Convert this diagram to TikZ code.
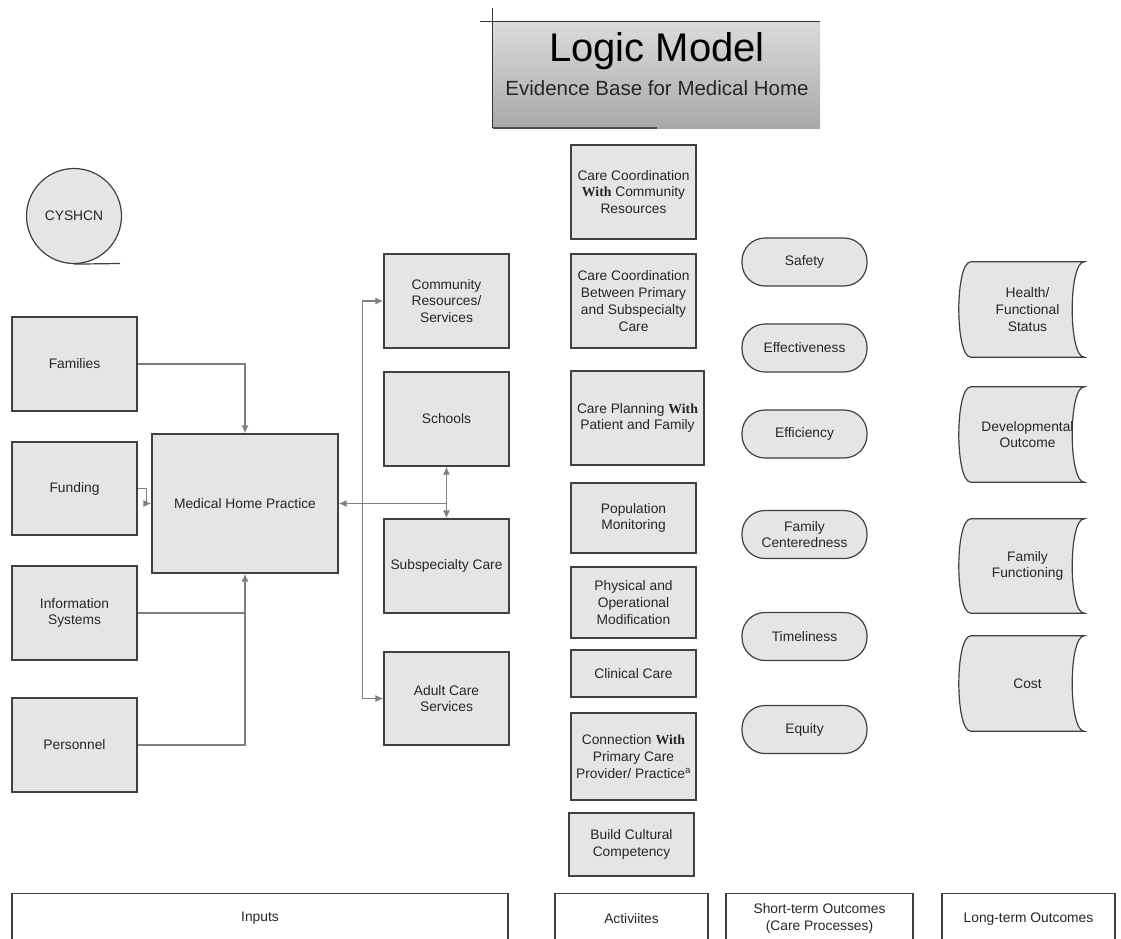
\documentclass[tikz,border=0pt]{standalone}
\usepackage{fontspec}
\setmainfont{Liberation Sans}
\newfontfamily\withfont{Liberation Serif}
\usetikzlibrary{arrows.meta,backgrounds}
\newcommand{\boxfont}{\fontsize{13.8}{16.8}\selectfont}
\newcommand{\bWith}{{\withfont\bfseries With}}
\begin{document}
\begin{tikzpicture}[x=1pt,y=-1pt]
    \tikzset{box/.style = {shape=rectangle,draw=black!75,line width=1.2pt,fill=black!10,text=black!85,font=\boxfont,align=center,minimum width=125pt,inner sep=1pt}}
    \tikzset{oval/.style = {box,rounded corners=23pt,minimum height=48pt}}
    \tikzset{lterm/.style = {font=\boxfont,text=black!85,align=center,minimum width=113pt,inner sep=0pt}}
    \tikzset{ltshape/.style = {draw=black!75,line width=1.2pt,fill=black!10}}
    \tikzset{column/.style = {draw=black!75,line width=1.2pt,fill=white,text=black!85,font=\boxfont,align=center,minimum height=50pt,anchor=north}}
    \tikzset{edge/.style = {->,> = {Latex[length=8pt,width=7pt]},draw=black!50,line width=1.3pt}}
    \useasboundingbox (0,0) rectangle (1121,938);
    \node[shape=rectangle,minimum width=327pt,minimum height=106pt,top color=black!14,bottom color=black!34] (title) at (656.5,75) {};
    \draw[black!80,line width=1pt] ([yshift=14pt]title.north west) -- (title.south west);
    \draw[black!80,line width=1pt] ([xshift=-13pt]title.north west) -- (title.north east);
    \draw[black!70,line width=2pt] (title.south west) -- (title.south);
    \node[anchor=base,font=\fontsize{40}{44}\selectfont] (logic) at (657,61) {Logic Model};
    \node[anchor=base,font=\fontsize{20.5}{24}\selectfont,text=black!85] (evidence) at (657,95) {Evidence Base for Medical Home};
    \node[circle,draw=black!75,line width=1.2pt,fill=black!10,text=black!85,font=\boxfont,minimum size=95pt] (cyshcn) at (74,216) {CYSHCN};
    \coordinate (tapeend) at (120,263.5);
    \draw[black!75,line width=1.2pt] (cyshcn.south) -- (tapeend);
    \node[box,minimum height=94pt] (families) at (74.5,364) {Families};
    \node[box,minimum height=93pt] (funding) at (74.5,488.5) {Funding};
    \node[box,minimum height=94pt] (infosys) at (74.5,613) {Information\\Systems};
    \node[box,minimum height=94pt] (personnel) at (74.5,745) {Personnel};
    \node[box,minimum width=186pt,minimum height=139pt] (mhp) at (245,503.5) {Medical Home Practice};
    \node[box,minimum height=94pt] (community) at (446.5,301) {Community\\Resources/\\Services};
    \node[box,minimum height=94pt] (schools) at (446.5,419) {Schools};
    \node[box,minimum height=94pt] (subspecialty) at (446.5,566) {Subspecialty Care};
    \node[box,minimum height=93pt] (adult) at (446.5,698.5) {Adult Care\\Services};
    \node[box,minimum height=94pt] (act1) at (633.5,192) {Care Coordination\\\bWith{} Community\\Resources};
    \node[box,minimum height=94pt] (act2) at (633.5,301) {Care Coordination\\Between Primary\\and Subspecialty\\Care};
    \node[box,minimum width=133pt,minimum height=94pt] (act3) at (637.5,418) {Care Planning \bWith\\Patient and Family};
    \node[box,minimum height=70pt] (act4) at (633.5,518) {Population\\Monitoring};
    \node[box,minimum height=71pt] (act5) at (633.5,602.5) {Physical and\\Operational\\Modification};
    \node[box,minimum height=47pt] (act6) at (633.5,673.5) {Clinical Care};
    \node[box,minimum height=87pt] (act7) at (633.5,756.5) {Connection \bWith\\Primary Care\\Provider/ Practice\textsuperscript{a}};
    \node[box,minimum height=63pt] (act8) at (631.5,844.5) {Build Cultural\\Competency};
    \node[oval] (safety) at (804.5,262) {Safety};
    \node[oval] (effectiveness) at (804.5,348) {Effectiveness};
    \node[oval] (efficiency) at (804.5,434) {Efficiency};
    \node[oval] (centeredness) at (804.5,534.5) {Family\\Centeredness};
    \node[oval] (timeliness) at (804.5,636.5) {Timeliness};
    \node[oval] (equity) at (804.5,729.5) {Equity};
    \node[lterm,minimum height=95pt] (health) at (1027.5,309.5) {Health/\\Functional\\Status};
    \node[lterm,minimum height=95pt] (devel) at (1027.5,434.5) {Developmental\\Outcome};
    \node[lterm,minimum height=94pt] (famfun) at (1027.5,566) {Family\\Functioning};
    \node[lterm,minimum height=95pt] (cost) at (1027.5,683.5) {Cost};
    \begin{scope}[on background layer]
        \foreach \n in {health,devel,famfun,cost}
            \filldraw[ltshape] (\n.north west) .. controls ([xshift=-16pt]\n.north west) and ([xshift=-16pt]\n.south west) .. (\n.south west) -- (\n.south east) .. controls ([xshift=-16pt]\n.south east) and ([xshift=-16pt]\n.north east) .. (\n.north east) -- cycle;
    \end{scope}
    \node[column,minimum width=496pt] (inputs) at (260,893) {Inputs};
    \node[column,minimum width=153pt] (activities) at (631.5,893) {Activiites};
    \node[column,minimum width=187pt] (shortterm) at (819.5,893) {Short-term Outcomes\\(Care Processes)};
    \node[column,minimum width=173pt] (longterm) at (1028.5,893) {Long-term Outcomes};
    \draw[edge] (families.east) -| (mhp.north);
    \draw[edge] (funding.east) -- ++(9,0) |- (mhp.west);
    \draw[draw=black!50,line width=1.3pt] (infosys.east) -- (infosys.east -| mhp.south);
    \draw[edge] (personnel.east) -| (mhp.south);
    \coordinate (hub) at (schools.south |- mhp.east);
    \coordinate (split) at ([xshift=24pt]mhp.east);
    \draw[edge] (hub) -- (mhp.east);
    \draw[edge] (hub) -- (schools.south);
    \draw[edge] (hub) -- (subspecialty.north);
    \draw[edge] (split) |- (community.west);
    \draw[edge] (split) |- (adult.west);
\end{tikzpicture}
\end{document}
